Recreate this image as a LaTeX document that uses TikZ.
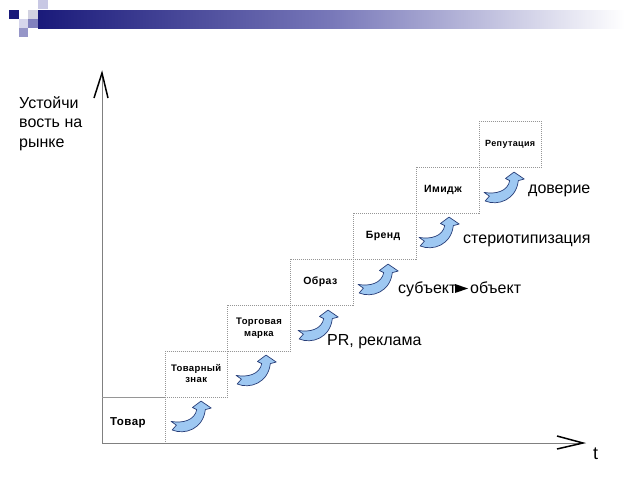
\documentclass[tikz,border=0pt]{standalone}
\usepackage{fontspec}
\setmainfont{Liberation Sans}
\newfontfamily\boxfont[LetterSpace=4]{Liberation Sans}
\definecolor{navy}{RGB}{26,26,122}
\definecolor{lavA}{RGB}{200,200,228}
\definecolor{lavB}{RGB}{214,214,236}
\definecolor{lavC}{RGB}{150,150,200}
\definecolor{lavD}{RGB}{130,130,190}
\definecolor{lavE}{RGB}{210,210,225}
\definecolor{arrowfillc}{RGB}{158,200,242}
\definecolor{arrowdrawc}{RGB}{40,62,120}
\definecolor{boxgray}{RGB}{150,150,150}
\definecolor{axisgray}{RGB}{128,128,128}
\tikzset{
  stepbox/.style={draw=boxgray, line width=0.6pt, dash pattern=on 1pt off 1pt,
    minimum width=62.8pt, minimum height=46pt, inner sep=0pt, outer sep=0pt,
    anchor=south west, align=center, font=\boxfont\bfseries},
  axisline/.style={draw=axisgray, line width=0.8pt},
  axishead/.style={draw=black, line width=1.5pt},
  biglabel/.style={anchor=base west, inner sep=0pt, font=\fontsize{16}{19.5}\selectfont},
  arrowstyle/.style={fill=arrowfillc, draw=arrowdrawc, line width=0.7pt, line join=round},
  curvarrow/.pic={
    \filldraw[arrowstyle] (1,20) -- (6,23.5) -- (2,28)
      .. controls (14,33) and (31,27) .. (33,9) -- (38.5,7.5) -- (29,1) -- (21,7) -- (25,9)
      .. controls (23,19) and (12,22) .. (1,20) -- cycle;
  }
}
\begin{document}
\begin{tikzpicture}[x=1pt,y=-1pt]
\useasboundingbox (0,0) rectangle (640,480);
% banner
\shade[left color=navy, right color=white, middle color={rgb,255:red,120;green,120;blue,185}] (38,10) rectangle (625,28);
\fill[navy] (9,10) rectangle (19,19);
\fill[lavA] (38,0) rectangle (48,9);
\fill[lavE] (28,10) rectangle (38,19);
\fill[lavB] (19,19) rectangle (28,28);
\fill[lavC] (19,28) rectangle (28,37);
\fill[lavD] (28,19) rectangle (38,28);
% axes
\coordinate (O) at (102,443);
\coordinate (ytop) at (102,73);
\coordinate (xend) at (583,443);
\draw[axisline] (O) -- (ytop);
\draw[axisline] (O) -- (xend);
\draw[axishead] (ytop) ++(-8,25) -- (ytop) -- ++(6,25);
\draw[axishead] (xend) ++(-26,-7) -- (xend) -- ++(-26,6);
% boxes
\node[stepbox, draw=none] (b1) at (102,443) {};
\node[anchor=base west, inner sep=0pt, font=\boxfont\bfseries\fontsize{11.5}{13}\selectfont] (t1) at (110,425) {Товар};
\draw[draw=boxgray, line width=0.6pt] (b1.north west) -- (b1.north east);
\draw[draw=boxgray, line width=0.6pt, dash pattern=on 1pt off 1pt] (b1.north east) -- (b1.south east);
\node[stepbox, font=\boxfont\bfseries\fontsize{9.5}{11}\selectfont] (b2) at (164.8,397) {Товарный\\знак};
\node[stepbox, font=\boxfont\bfseries\fontsize{9.5}{11.5}\selectfont] (b3) at (227.6,351) {Торговая\\марка};
\node[stepbox, font=\boxfont\bfseries\fontsize{10.5}{12}\selectfont] (b4) at (290.4,305) {Образ\hspace*{3pt}};
\node[stepbox, font=\boxfont\bfseries\fontsize{10.5}{12}\selectfont] (b5) at (353.2,259) {Бренд\hspace*{3pt}};
\node[stepbox, font=\boxfont\bfseries\fontsize{10.5}{12}\selectfont] (b6) at (416,213) {Имидж\hspace*{9pt}};
\node[stepbox, font=\boxfont\bfseries\fontsize{9}{10}\selectfont] (b7) at (478.8,167) {Репутация};
% curved arrows
\pic[scale=1.07] at (170,400) {curvarrow};
\pic[scale=1.07] at (235,354) {curvarrow};
\pic[scale=1.07] at (297,309) {curvarrow};
\pic[scale=1.07] at (357,263) {curvarrow};
\pic[scale=1.07] at (418,216) {curvarrow};
\pic[scale=1.07] at (483,171) {curvarrow};
% labels
\node[biglabel, align=left] (ylab) at (19,147) {Устойчи\\вость на\\рынке};
\node[anchor=base west, inner sep=0pt, font=\fontsize{18}{20}\selectfont] (tlab) at (593,459) {t};
\node[biglabel] (l1) at (327,345) {PR, реклама};
\node[biglabel] (l2a) at (398,293) {субъект};
\node[biglabel] (l2b) at (470,293) {объект};
\fill[black] (455,284) -- (468,288.5) -- (455,293) -- cycle;
\node[biglabel] (l3) at (463,243) {стериотипизация};
\node[biglabel] (l4) at (528,193) {доверие};
\end{tikzpicture}
\end{document}
